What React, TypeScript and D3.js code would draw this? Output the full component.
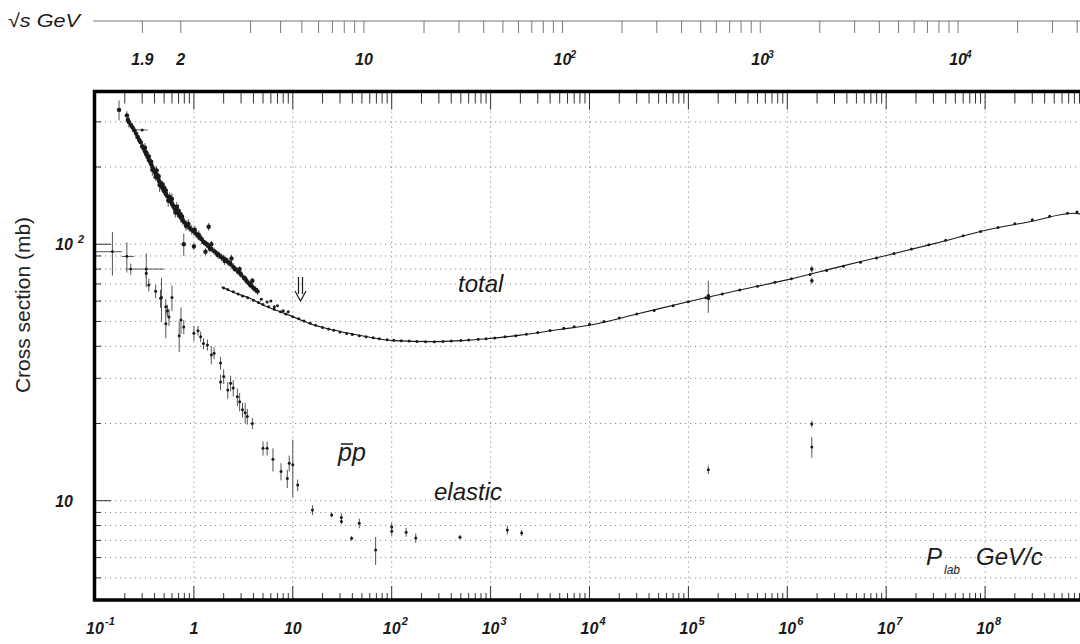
import React from 'react';
import * as d3 from 'd3';

const W = 1080;
const H = 644;

// p_lab axis decades (exponents) and labels
const pLabDecades = [-1, 0, 1, 2, 3, 4, 5, 6, 7, 8];
const pLabLabels = [
  { v: 0.1, base: '10', exp: '-1' },
  { v: 1, base: '1', exp: '' },
  { v: 10, base: '10', exp: '' },
  { v: 1e2, base: '10', exp: '2' },
  { v: 1e3, base: '10', exp: '3' },
  { v: 1e4, base: '10', exp: '4' },
  { v: 1e5, base: '10', exp: '5' },
  { v: 1e6, base: '10', exp: '6' },
  { v: 1e7, base: '10', exp: '7' },
  { v: 1e8, base: '10', exp: '8' },
];

// sigma axis
const sigmaGrid = [5, 6, 7, 8, 9, 10, 20, 30, 40, 50, 60, 70, 80, 90, 100, 200, 300];
const sigmaMajor = [10, 100];
const sigmaLabels = [
  { v: 10, base: '10', exp: '' },
  { v: 100, base: '10', exp: '2' },
];

// sqrt(s) axis (top)
const sqrtSTicks = [
  1.9, 2, 3, 4, 5, 6, 7, 8, 9, 10, 20, 30, 40, 50, 60, 70, 80, 90, 100, 200, 300, 400, 500, 600,
  700, 800, 900, 1000, 2000, 3000, 4000, 5000, 6000, 7000, 8000, 9000, 10000, 20000, 30000, 40000,
];
const sqrtSLabels = [
  { v: 1.9, base: '1.9', exp: '' },
  { v: 2, base: '2', exp: '' },
  { v: 10, base: '10', exp: '' },
  { v: 100, base: '10', exp: '2' },
  { v: 1000, base: '10', exp: '3' },
  { v: 10000, base: '10', exp: '4' },
];

// total pbar-p cross section, low-energy data [p_lab, sigma, err]
const totalLowData: [number, number, number][] = [
  [0.175, 334, 30], [0.21, 318, 12], [0.215, 305, 10], [0.22, 300, 15], [0.23, 292, 8],
  [0.24, 285, 10], [0.25, 278, 8], [0.26, 270, 12], [0.27, 262, 8], [0.28, 255, 9],
  [0.29, 250, 6], [0.30, 241, 8], [0.31, 236, 6], [0.32, 230, 7], [0.33, 224, 6],
  [0.34, 219, 8], [0.35, 213, 6], [0.36, 210, 7], [0.37, 205, 5], [0.38, 200, 6],
  [0.39, 196, 5], [0.40, 192, 7], [0.41, 188, 5], [0.42, 186, 6], [0.43, 182, 8],
  [0.44, 178, 5], [0.45, 175, 6], [0.46, 172, 5], [0.47, 168, 7], [0.48, 166, 5],
  [0.50, 161, 6], [0.52, 157, 5], [0.54, 154, 6], [0.56, 150, 5], [0.58, 147, 6],
  [0.60, 144, 5], [0.62, 141, 6], [0.65, 137, 5], [0.68, 133, 6], [0.71, 130, 5],
  [0.74, 127, 6], [0.77, 124, 5], [0.80, 122, 4], [0.85, 119, 5], [0.90, 116, 4],
  [0.95, 114, 5], [1.0, 112, 4], [1.05, 110, 4], [1.1, 108, 4], [1.15, 106, 3],
  [1.2, 104.5, 4], [1.3, 101, 3], [1.4, 98.5, 3], [1.5, 96, 3], [1.6, 94, 3],
  [1.7, 92, 3], [1.8, 90.5, 3], [1.9, 89, 3], [2.0, 88, 3], [2.1, 87, 2],
  [2.2, 85.5, 3], [2.35, 83.5, 2], [2.5, 81.5, 3], [2.65, 80, 2], [2.8, 78, 2],
  [3.0, 76, 2], [3.2, 74, 2], [3.4, 72, 2], [3.6, 70.5, 2], [3.8, 69, 2],
  [4.0, 67.5, 2], [4.2, 66.5, 2], [4.4, 65.5, 2],
  [0.32, 238, 10], [0.35, 220, 8], [0.38, 195, 10], [0.42, 194, 8], [0.45, 170, 10],
  [0.5, 166, 8], [0.55, 148, 8], [0.6, 150, 8], [0.65, 133, 6], [0.7, 135, 8],
  [0.33, 228, 6], [0.37, 210, 6], [0.41, 183, 6], [0.44, 184, 6], [0.48, 171, 6],
  [0.52, 162, 6], [0.57, 153, 6], [0.63, 139, 5], [0.67, 140, 6], [0.73, 131, 5],
  [0.76, 128, 5], [0.83, 118, 5], [0.88, 120, 5], [1.02, 114, 4], [1.12, 109, 4],
  [1.25, 102, 3], [1.35, 100, 3], [1.45, 96, 3], [1.75, 91, 3], [2.05, 86, 3],
  [2.3, 84.5, 2], [2.6, 80, 2], [2.95, 77, 2], [3.3, 73.5, 2], [3.7, 69.5, 2],
  [0.79, 100, 10], [1.0, 98, 3], [1.31, 93.5, 3], [1.41, 117, 4], [1.5, 100, 3],
  [2.4, 88, 3], [2.9, 80, 2], [3.9, 72, 2],
];
// data point with horizontal bar [p, sigma, pLow, pHigh]
const totalLowXerr: [number, number, number, number][] = [[0.30, 279, 0.265, 0.34]];

// smooth fit curve for the total cross-section [p_lab, sigma]
const totalFitP = [1.9, 2.5, 3.7, 5, 7, 10, 15, 25.7, 40, 55.8, 104, 263, 500, 843, 2000, 5000, 1e4, 3.24e4, 1.04e5, 3.3e5, 9.9e5, 3.41e6, 1.05e7, 3.2e7, 1.04e8, 3e8, 7.8e8, 9.5e8];
const totalFitSigma = [68.3, 65, 61.5, 58, 55, 52.2, 49, 46.3, 44.7, 43.6, 42.1, 41.7, 42.1, 42.7, 44.2, 46.5, 48.3, 53.8, 59.9, 66.3, 72.6, 81.8, 90.8, 101, 113.7, 123, 132, 131];

// points along the fit [p_lab, sigma]
const totalHighData: [number, number][] = [
  [2.0, 67.5], [2.2, 66.6], [2.5, 65.2], [2.8, 64], [3.1, 62.8], [3.5, 61.8], [4.0, 60.5],
  [4.5, 59.2], [5.0, 58.2], [5.7, 57], [6.5, 55.8], [7.5, 54.5], [8.5, 53.4], [10, 52.2],
  [11.5, 51.2], [13, 50.2], [15, 49.2], [17, 48.3], [20, 47.4], [23, 46.7], [26, 46.2],
  [30, 45.5], [35, 44.9], [40, 44.5], [47, 44], [55, 43.6], [65, 43.2], [75, 42.8],
  [90, 42.4], [105, 42.2], [125, 42], [150, 41.9], [180, 41.8], [220, 41.7], [270, 41.7],
  [330, 41.8], [400, 41.9], [500, 42.1], [600, 42.3], [750, 42.6], [900, 42.8], [1100, 43.1],
  [1400, 43.6], [1800, 44], [2300, 44.6], [3000, 45.3], [4000, 46.1], [5500, 47], [7000, 47.7],
  [1e4, 48.7], [1.4e4, 50], [2e4, 51.6], [3e4, 53.4], [4.5e4, 55.2], [7e4, 57.5], [1e5, 59.6],
  [1.5e5, 61.8], [2.2e5, 64], [3.3e5, 66.3], [5e5, 68.6], [7.5e5, 71], [1.1e6, 73.4],
  [1.7e6, 76.2], [2.5e6, 79], [3.7e6, 82], [5.5e6, 85], [8e6, 88.4], [1.2e7, 92], [1.8e7, 95.7],
  [2.7e7, 99.6], [4e7, 103.6], [6e7, 107.8], [9e7, 112], [1.35e8, 116.3], [2e8, 120.3],
  [3e8, 124.5], [4.5e8, 128.5], [6.8e8, 132], [8.5e8, 133.5],
  [4.8, 61], [5.5, 59.5], [6.0, 60], [6.5, 57], [7.0, 57.5], [8.0, 55], [9.0, 54.5],
];

// collider total cross sections [p_lab, sigma, err]
const totalColliderData: [number, number, number][] = [
  [1.59e5, 63, 9], [1.6e5, 61.5, 1.5], [1.77e6, 80, 2.5], [1.77e6, 72, 2],
];

// elastic pbar-p [p_lab, sigma, err]
const elasticData: [number, number, number][] = [
  [0.33, 80, 12], [0.33, 77, 3], [0.35, 69.4, 4], [0.41, 65.5, 4], [0.46, 61.5, 5],
  [0.47, 62, 12], [0.52, 57, 4], [0.54, 55, 3], [0.6, 62, 7], [0.56, 52, 4],
  [0.52, 49, 6], [0.71, 44, 6], [0.74, 50.7, 6], [0.79, 47.6, 3], [1.0, 45, 3],
  [1.1, 46, 2], [1.17, 43.6, 2], [1.25, 41, 2], [1.37, 40.5, 2], [1.5, 37, 3],
  [1.6, 37.6, 2], [1.86, 34.4, 2], [1.86, 29, 2], [2.0, 30.5, 2], [2.2, 27, 2],
  [2.35, 28.7, 2], [2.5, 27.5, 2], [2.75, 25.4, 2], [2.9, 24.3, 2], [3.1, 22.6, 1.5],
  [3.3, 22, 2], [3.47, 21.3, 1.5], [3.9, 20, 1],
  [5.0, 16, 1], [5.5, 16, 1], [6.3, 14.5, 1.5], [7.6, 13, 1], [8.8, 12.2, 1], [9.2, 14, 1],
  [10, 13.8, 3.5], [11.2, 11.5, 0.6], [15.8, 9.2, 0.4], [24.7, 8.8, 0.2], [31, 8.6, 0.3],
  [31, 8.3, 0.2], [39.3, 7.13, 0.15], [47, 8.16, 0.35], [68.8, 6.42, 0.8], [100, 7.9, 0.3],
  [100, 7.6, 0.3], [140, 7.54, 0.3], [175, 7.15, 0.3], [490, 7.21, 0.15], [1476, 7.69, 0.3],
  [2060, 7.48, 0.2], [1.59e5, 13.2, 0.5], [1.77e6, 19.9, 0.6], [1.77e6, 16.2, 1.5],
];
// elastic points with horizontal bars [p, sigma, err, pLow, pHigh]
const elasticXerr: [number, number, number, number, number][] = [
  [0.15, 93.5, 18, 0.1, 0.187],
  [0.21, 89.6, 12, 0.187, 0.248],
  [0.23, 80, 4, 0.21, 0.5],
];

const FONT = "'Liberation Sans', Arial, Helvetica, sans-serif";

export default function App() {
  const x = d3.scaleLog().domain([0.1, 1e9]).range([95, 1084]);
  const y = d3.scaleLog().domain([4.1, 394]).range([600, 91.5]);
  const m = 0.938272;
  const pFromSqrtS = (rs: number) => {
    const s = rs * rs;
    const E = (s - 2 * m * m) / (2 * m);
    return Math.sqrt(E * E - m * m);
  };

  const left = x(0.1);
  const top = y(394);
  const bottom = y(4.1);
  const right = x(1e9);

  const minorP: number[] = [];
  pLabDecades.forEach((d) => {
    for (let k = 2; k <= 9; k++) minorP.push(k * Math.pow(10, d));
  });
  const minorS = [5, 6, 7, 8, 9, 20, 30, 40, 50, 60, 70, 80, 90, 200, 300];

  const fitLine = d3
    .line<number>()
    .x((_, i) => x(totalFitP[i]))
    .y((d) => y(d))
    .curve(d3.curveMonotoneX);

  const gridColor = '#8a8a8a';
  const ink = '#1a1a1a';

  return (
    <svg
      width={W}
      height={H}
      viewBox={`0 0 ${W} ${H}`}
      style={{ position: 'absolute', left: 0, top: 0, background: '#fff' }}
      fontFamily={FONT}
    >
      <defs>
        <clipPath id="plotClip">
          <rect x={left} y={top} width={right - left} height={bottom - top} />
        </clipPath>
      </defs>

      {/* top sqrt(s) axis */}
      <text x={8} y={27} fontSize={19} fontStyle="italic" fill={ink} textLength={72} lengthAdjust="spacingAndGlyphs">
        √s GeV
      </text>
      <line x1={93} x2={W} y1={21} y2={21} stroke="#777" strokeWidth={1} />
      {sqrtSTicks.map((v) => {
        const px = x(pFromSqrtS(v));
        return <line key={'st' + v} x1={px} x2={px} y1={21} y2={33} stroke="#777" strokeWidth={1} />;
      })}
      {sqrtSLabels.map((l) => {
        const px = x(pFromSqrtS(l.v));
        return (
          <g key={'sl' + l.v} fill={ink} fontStyle="italic" fontWeight="bold">
            <text x={px} y={65} fontSize={16} textAnchor="middle">
              {l.base}
            </text>
            {l.exp && (
              <text x={px + 8} y={58} fontSize={10}>
                {l.exp}
              </text>
            )}
          </g>
        );
      })}

      {/* grid */}
      <g stroke={gridColor} strokeWidth={1} strokeDasharray="1.2 3.8">
        {pLabDecades
          .filter((d) => d >= 0)
          .map((d) => (
            <line key={'gx' + d} x1={x(Math.pow(10, d))} x2={x(Math.pow(10, d))} y1={top} y2={bottom} />
          ))}
        {sigmaGrid.map((s) => (
          <line key={'gy' + s} x1={left} x2={right} y1={y(s)} y2={y(s)} />
        ))}
      </g>

      {/* ticks */}
      <g stroke="#333" strokeWidth={1}>
        {minorP.filter((v) => v < 1e9).map((v) => (
          <g key={'mp' + v}>
            <line x1={x(v)} x2={x(v)} y1={bottom} y2={bottom - 7} />
            <line x1={x(v)} x2={x(v)} y1={top} y2={top + 12} />
          </g>
        ))}
        {pLabDecades.map((d) => (
          <g key={'Mp' + d}>
            <line x1={x(Math.pow(10, d))} x2={x(Math.pow(10, d))} y1={bottom} y2={bottom - 14} />
            <line x1={x(Math.pow(10, d))} x2={x(Math.pow(10, d))} y1={top} y2={top + 18} />
          </g>
        ))}
        {minorS.map((s) => (
          <line key={'ms' + s} x1={left} x2={left + 6} y1={y(s)} y2={y(s)} />
        ))}
        {sigmaMajor.map((s) => (
          <line key={'Ms' + s} x1={left} x2={left + 16} y1={y(s)} y2={y(s)} />
        ))}
      </g>

      {/* data */}
      <g clipPath="url(#plotClip)">
        <path d={fitLine(totalFitSigma) || ''} fill="none" stroke={ink} strokeWidth={1.1} />
        <g stroke="#555" strokeWidth={1}>
          {totalLowData.map((d, i) => (
            <line key={'tle' + i} x1={x(d[0])} x2={x(d[0])} y1={y(d[1] - d[2])} y2={y(d[1] + d[2])} />
          ))}
          {totalLowXerr.map((d, i) => (
            <g key={'tlx' + i}>
              <line x1={x(d[2])} x2={x(d[3])} y1={y(d[1])} y2={y(d[1])} />
            </g>
          ))}
          {totalColliderData.map((d, i) => (
            <line key={'tce' + i} x1={x(d[0])} x2={x(d[0])} y1={y(d[1] - d[2])} y2={y(d[1] + d[2])} />
          ))}
          {elasticData.map((d, i) => (
            <line key={'ele' + i} x1={x(d[0])} x2={x(d[0])} y1={y(d[1] - d[2])} y2={y(d[1] + d[2])} />
          ))}
          {elasticXerr.map((d, i) => (
            <g key={'elx' + i}>
              <line x1={x(d[0])} x2={x(d[0])} y1={y(d[1] - d[2])} y2={y(d[1] + d[2])} />
              <line x1={x(d[3])} x2={x(d[4])} y1={y(d[1])} y2={y(d[1])} />
            </g>
          ))}
        </g>
        <g fill={ink}>
          {totalLowData.map((d, i) => (
            <circle key={'tl' + i} cx={x(d[0])} cy={y(d[1])} r={2.2} />
          ))}
          {totalLowXerr.map((d, i) => (
            <circle key={'tlxc' + i} cx={x(d[0])} cy={y(d[1])} r={1.5} />
          ))}
          {totalHighData.map((d, i) => (
            <circle key={'th' + i} cx={x(d[0])} cy={y(d[1])} r={1.5} />
          ))}
          {totalColliderData.map((d, i) => (
            <circle key={'tc' + i} cx={x(d[0])} cy={y(d[1])} r={1.8} />
          ))}
          {elasticData.map((d, i) => (
            <circle key={'el' + i} cx={x(d[0])} cy={y(d[1])} r={1.5} />
          ))}
          {elasticXerr.map((d, i) => (
            <circle key={'elxc' + i} cx={x(d[0])} cy={y(d[1])} r={1.4} />
          ))}
        </g>
      </g>

      {/* frame */}
      <rect
        x={left - 0.5}
        y={top}
        width={right - left + 10}
        height={bottom - top}
        fill="none"
        stroke="#000"
        strokeWidth={3.5}
      />

      {/* bottom labels */}
      {pLabLabels.map((l) => (
        <g key={'bl' + l.v} fill={ink} fontStyle="italic" fontWeight="bold">
          <text x={x(l.v)} y={634} fontSize={16} textAnchor="middle">
            {l.base}
          </text>
          {l.exp && (
            <text x={x(l.v) + 10} y={625} fontSize={11}>
              {l.exp}
            </text>
          )}
        </g>
      ))}

      {/* left labels */}
      {sigmaLabels.map((l) => (
        <g key={'ll' + l.v} fill={ink} fontStyle="italic" fontWeight="bold">
          <text x={73} y={y(l.v) + 6} fontSize={16} textAnchor="end">
            {l.base}
          </text>
          {l.exp && (
            <text x={78} y={y(l.v) - 1} fontSize={11}>
              {l.exp}
            </text>
          )}
        </g>
      ))}

      {/* y title */}
      <text
        transform={`translate(30, ${305}) rotate(-90)`}
        fontSize={21}
        textAnchor="middle"
        fill="#222"
      >
        Cross section (mb)
      </text>

      {/* annotations */}
      <text x={458} y={292} fontSize={24} fontStyle="italic" fill={ink}>
        total
      </text>
      <text x={338} y={461} fontSize={25} fontStyle="italic" fill={ink}>
        pp
      </text>
      <line x1={341} x2={353} y1={444} y2={444} stroke={ink} strokeWidth={1.5} />
      <text x={434} y={500} fontSize={24} fontStyle="italic" fill={ink}>
        elastic
      </text>
      <text x={926} y={565} fontSize={24} fontStyle="italic" fill={ink}>
        P
      </text>
      <text x={944} y={574} fontSize={12} fontStyle="italic" fill={ink}>
        lab
      </text>
      <text x={976} y={565} fontSize={24} fontStyle="italic" fill={ink}>
        GeV/c
      </text>
      {/* double arrow */}
      <g stroke={ink} strokeWidth={1.2} fill="none">
        <line x1={298.5} x2={298.5} y1={277} y2={294} />
        <line x1={302.5} x2={302.5} y1={277} y2={294} />
        <polyline points="295,291 300.5,301 306,291" />
      </g>
    </svg>
  );
}
